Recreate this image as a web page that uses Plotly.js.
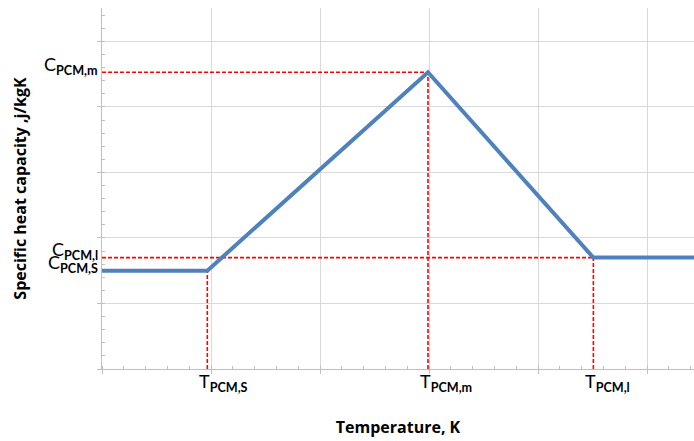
<!DOCTYPE html>
<html>
<head>
<meta charset="utf-8">
<script src="https://cdn.plot.ly/plotly-3.0.1.min.js"></script>
<style>html,body{margin:0;padding:0;background:#fff;}#chart{width:694px;height:441px;}</style>
</head>
<body>
<div id="chart"></div>
<script>
// Temperature (x) and specific heat capacity (y) in arbitrary grid units
const curveTemperature = [0, 0.966, 2.99, 4.507, 5.6];
const curveHeatCapacity = [1.5, 1.5, 4.53, 1.70, 1.70];

// Key points for the dashed guide lines
const keyTemperatures = [0.966, 2.99, 4.507];
const keyHeatCapacities = [1.5, 4.53, 1.70];

// Tick-style labels
const tempLabelNames = ['PCM,S', 'PCM,m', 'PCM,l'];
const heatLabelNames = ['PCM,S', 'PCM,m', 'PCM,l'];

const LABEL_FONT = 'Lato, "Open Sans", sans-serif';
const TITLE_FONT = '"Open Sans", sans-serif';
const traces = [];

// dashed red guide lines
keyTemperatures.forEach((t, i) => {
  const c = keyHeatCapacities[i];
  traces.push({
    x: [0, t], y: [c, c], mode: 'lines', hoverinfo: 'skip', showlegend: false,
    line: {color: '#ff0000', width: 1.6, dash: '4px,2px'}
  });
  traces.push({
    x: [t, t], y: [0, c], mode: 'lines', hoverinfo: 'skip', showlegend: false,
    line: {color: '#ff0000', width: 1.6, dash: '4px,2px'}
  });
});

// main curve
traces.push({
  x: curveTemperature, y: curveHeatCapacity, mode: 'lines', showlegend: false,
  line: {color: '#4f81bd', width: 4}
});

const annotations = [];
keyTemperatures.forEach((t, i) => {
  annotations.push({
    x: t, xref: 'x', y: 0, yref: 'paper', xanchor: 'left', yanchor: 'top',
    xshift: -10, yshift: 1, showarrow: false,
    text: 'T<sub><b>' + tempLabelNames[i] + '</b></sub>',
    font: {family: LABEL_FONT, size: 18, color: '#000'}
  });
});
keyHeatCapacities.forEach((c, i) => {
  annotations.push({
    x: 0, xref: 'paper', y: c, yref: 'y', xanchor: 'right', yanchor: 'middle',
    xshift: -2, yshift: 7, showarrow: false,
    text: 'C<sub><b>' + heatLabelNames[i] + '</b></sub>',
    font: {family: LABEL_FONT, size: 18, color: '#000'}
  });
});

const layout = {
  width: 694, height: 441,
  margin: {l: 102, r: 0, t: 8, b: 72},
  paper_bgcolor: '#fff', plot_bgcolor: '#fff',
  showlegend: false,
  xaxis: {
    range: [0, 5.43], tick0: 0, dtick: 1, showticklabels: false,
    showgrid: true, gridcolor: '#d9d9d9', gridwidth: 1,
    zeroline: false, showline: true, linecolor: '#bfbfbf', linewidth: 1,
    ticks: 'outside', ticklen: 4, tickcolor: '#bfbfbf',
    minor: {dtick: 0.2, ticks: 'inside', ticklen: 3, tickcolor: '#bfbfbf', showgrid: false},
    title: {text: 'Temperature, K', standoff: 48, font: {family: TITLE_FONT, size: 16, color: '#000', weight: 'bold'}}
  },
  yaxis: {
    range: [0, 5.51], tick0: 0, dtick: 1, showticklabels: false,
    showgrid: true, gridcolor: '#d9d9d9', gridwidth: 1,
    zeroline: false, showline: true, linecolor: '#bfbfbf', linewidth: 1,
    ticks: 'outside', ticklen: 4, tickcolor: '#bfbfbf',
    minor: {dtick: 0.2, ticks: 'inside', ticklen: 3, tickcolor: '#bfbfbf', showgrid: false},
    title: {text: 'Specific heat capacity ,j/kgK', standoff: 66, font: {family: TITLE_FONT, size: 16, color: '#000', weight: 'bold'}}
  },
  annotations: annotations
};

Plotly.newPlot('chart', traces, layout, {staticPlot: true, displayModeBar: false});
</script>
</body>
</html>
